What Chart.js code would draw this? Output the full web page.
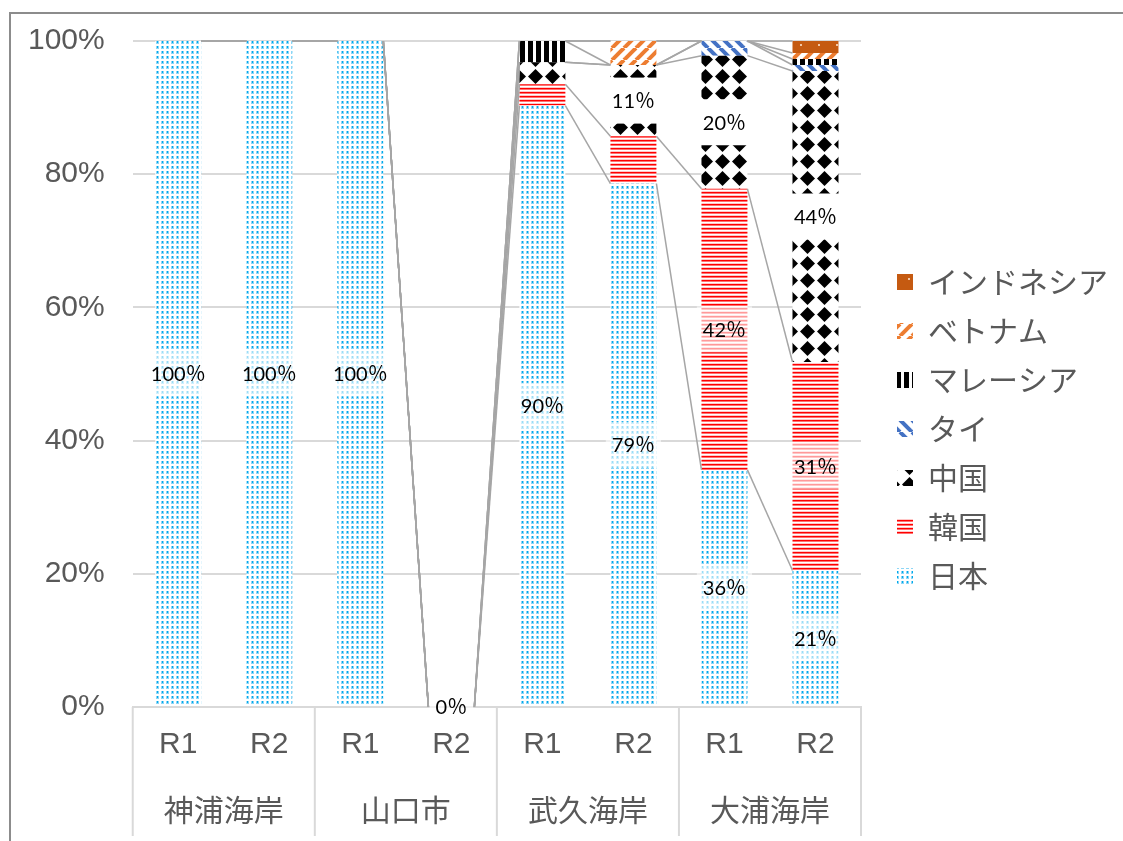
<!DOCTYPE html>
<html>
<head>
<meta charset="utf-8">
<script src="https://cdn.jsdelivr.net/npm/chart.js@4.4.1/dist/chart.umd.min.js"></script>
<style>
  body { margin: 0; background: #fff; }
  #wrap { position: relative; width: 1123px; height: 841px; }
  #frame { position: absolute; left: 9px; top: 12px; right: 0; bottom: 0; border-left: 2px solid #8c8c8c; border-top: 2px solid #8c8c8c; pointer-events: none; }
</style>
</head>
<body>
<div id="wrap">
  <canvas id="shareChart"></canvas>
  <div id="frame"></div>
</div>
<script>
const sites = ['神浦海岸', '山口市', '武久海岸', '大浦海岸'];
const rounds = ['R1', 'R2', 'R1', 'R2', 'R1', 'R2', 'R1', 'R2'];
const countries = ['日本', '韓国', '中国', 'タイ', 'マレーシア', 'ベトナム', 'インドネシア'];

// share by country of origin (%), one value per bar
const japan     = [100, 100, 100, 0, 90.3, 78.6, 35.6, 20.5];
const korea     = [0, 0, 0, 0, 3.2, 7.1, 42.2, 31.3];
const china     = [0, 0, 0, 0, 3.3, 10.7, 20.0, 43.7];
const thailand  = [0, 0, 0, 0, 0, 0, 2.2, 0.9];
const malaysia  = [0, 0, 0, 0, 3.2, 0, 0, 0.9];
const vietnam   = [0, 0, 0, 0, 0, 3.6, 0, 0.9];
const indonesia = [0, 0, 0, 0, 0, 0, 0, 1.8];
const yTicks = [0, 20, 40, 60, 80, 100];

const grey = '#595959';

function makePattern(w, h, draw) {
  const c = document.createElement('canvas');
  c.width = w; c.height = h;
  const g = c.getContext('2d');
  g.fillStyle = '#fff';
  g.fillRect(0, 0, w, h);
  draw(g, w, h);
  return g.createPattern(c, 'repeat');
}

const dots = makePattern(5, 5, g => {
  g.fillStyle = '#8dd6f6'; g.fillRect(1, 1, 3, 3);
  g.fillStyle = '#00aaec'; g.fillRect(2, 1, 1, 2);
});
const redLines = makePattern(4, 4, g => {
  g.fillStyle = '#ff0000'; g.fillRect(0, 0, 4, 1);
  g.fillStyle = '#ff7070'; g.fillRect(0, 1, 4, 1);
  g.fillStyle = '#ffc8c8'; g.fillRect(0, 3, 4, 1);
});
const diamonds = makePattern(17, 17, g => {
  g.fillStyle = '#000';
  g.beginPath();
  g.moveTo(8.5, 1); g.lineTo(16, 8.5); g.lineTo(8.5, 16); g.lineTo(1, 8.5);
  g.closePath(); g.fill();
});
const stripes = (color, up) => makePattern(12, 12, g => {
  g.strokeStyle = color; g.lineWidth = 4;
  for (let k = -12; k <= 12; k += 12) {
    g.beginPath();
    if (up) { g.moveTo(k, 12); g.lineTo(k + 12, 0); }
    else { g.moveTo(k, 0); g.lineTo(k + 12, 12); }
    g.stroke();
  }
});
const vLines = makePattern(8, 8, g => {
  g.fillStyle = '#000'; g.fillRect(0, 0, 5, 8);
});
const brownDots = makePattern(18, 18, g => {
  g.fillStyle = '#c55a11'; g.fillRect(0, 0, 18, 18);
  g.fillStyle = '#f2c6a4'; g.fillRect(8, 8, 2, 2);
});

const fills = [dots, redLines, diamonds, stripes('#4472c4', false), vLines, stripes('#ed7d31', true), brownDots];
const series = [japan, korea, china, thailand, malaysia, vietnam, indonesia];

// Excel-style series lines, data labels and category group dividers
const barExtras = {
  id: 'barExtras',
  afterLayout(chart) {
    const lg = chart.legend;
    lg.left += 17; lg.right += 17;
    lg.top -= 10; lg.bottom -= 10;
  },
  afterDatasetsDraw(chart) {
    const ctx = chart.ctx;
    ctx.save();
    ctx.strokeStyle = '#a6a6a6';
    ctx.lineWidth = 1.5;
    chart.data.datasets.forEach((ds, d) => {
      const bars = chart.getDatasetMeta(d).data;
      for (let i = 0; i < bars.length - 1; i++) {
        const a = bars[i], b = bars[i + 1];
        ctx.beginPath();
        ctx.moveTo(a.x + a.width / 2, a.y);
        ctx.lineTo(b.x - b.width / 2, b.y);
        ctx.stroke();
      }
    });

    ctx.font = '20px Lato, "Noto Sans CJK JP"';
    ctx.textAlign = 'center';
    ctx.textBaseline = 'middle';
    chart.data.datasets.forEach((ds, d) => {
      const bars = chart.getDatasetMeta(d).data;
      ds.data.forEach((v, i) => {
        if (d !== 0 && v < 10) return;
        const el = bars[i];
        const cy = (el.y + el.base) / 2;
        const text = Math.round(v) + '％';
        const w = ctx.measureText(text).width + 12;
        ctx.fillStyle = d === 2 ? '#fff' : 'rgba(255,255,255,0.6)';
        ctx.fillRect(el.x - w / 2, cy - 23, w, 46);
        ctx.fillStyle = '#000';
        ctx.fillText(text, el.x, cy + 1);
      });
    });

    const x = chart.scales.x;
    const step = x.width / rounds.length;
    ctx.strokeStyle = '#d9d9d9';
    ctx.lineWidth = 2;
    for (let k = 0; k <= sites.length; k++) {
      const px = x.left + k * 2 * step;
      ctx.beginPath();
      ctx.moveTo(px, chart.chartArea.bottom);
      ctx.lineTo(px, chart.height - 5);
      ctx.stroke();
    }
    ctx.restore();
  }
};

const shareChart = new Chart(document.getElementById('shareChart'), {
  type: 'bar',
  data: {
    labels: rounds,
    datasets: countries.map((name, i) => ({
      label: name,
      data: series[i],
      backgroundColor: fills[i],
      borderWidth: 0,
      barPercentage: 0.505,
      categoryPercentage: 1
    }))
  },
  options: {
    responsive: true,
    maintainAspectRatio: false,
    devicePixelRatio: 1,
    animation: false,
    layout: { padding: { top: 41, right: 22, bottom: 4, left: 0 } },
    plugins: {
      tooltip: { enabled: false },
      legend: {
        position: 'right',
        reverse: true,
        labels: {
          boxWidth: 16,
          boxHeight: 16,
          padding: 19,
          color: grey,
          font: { family: '"Noto Sans CJK JP"', size: 30 }
        }
      }
    },
    scales: {
      x: {
        stacked: true,
        grid: { display: false, drawTicks: false },
        border: { display: true, color: '#d9d9d9', width: 2 },
        ticks: {
          color: grey,
          padding: 20,
          font: { family: '"Liberation Sans", Arial', size: 30 }
        }
      },
      x2: {
        type: 'category',
        labels: sites,
        position: 'bottom',
        offset: true,
        grid: { display: false, drawTicks: false },
        border: { display: false },
        ticks: {
          color: grey,
          padding: 9,
          font: { family: '"Noto Sans CJK JP"', size: 30 }
        }
      },
      y: {
        stacked: true,
        min: 0,
        max: 100,
        afterBuildTicks(scale) { scale.ticks = yTicks.map(v => ({ value: v })); },
        grid: { color: '#d9d9d9', lineWidth: 2, drawTicks: false },
        border: { display: false },
        ticks: {
          color: grey,
          padding: 28,
          font: { family: '"Liberation Sans", Arial', size: 30, lineHeight: 0.8 },
          callback: v => v + '%'
        }
      }
    }
  },
  plugins: [barExtras]
});
</script>
</body>
</html>
